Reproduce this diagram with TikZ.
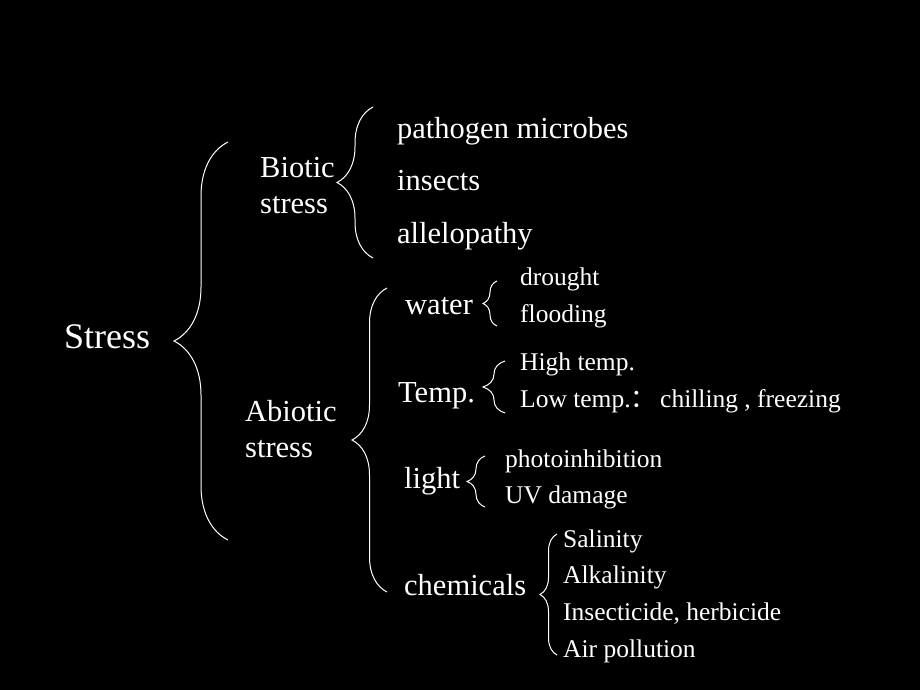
\documentclass[tikz,border=0pt]{standalone}
\usepackage{fontspec}
\setmainfont{Liberation Serif}
\newfontfamily\cjk{Noto Sans CJK SC}
\usetikzlibrary{decorations.pathreplacing}

\tikzset{
  lbl/.style={anchor=base west, inner sep=0pt, text=white},
  big/.style={lbl, font=\fontsize{36}{40}\selectfont},
  mid/.style={lbl, font=\fontsize{30.5}{36}\selectfont},
  small/.style={lbl, font=\fontsize{25.5}{30}\selectfont},
  brc/.style={draw=white, line width=1pt, decorate, decoration={brace, amplitude=#1}},
}

\begin{document}
\begin{tikzpicture}[x=1pt, y=-1pt]
\fill[black] (0,0) rectangle (920,690);

% root
\node[big] (stress) at (64,348) {Stress};

% first level
\node[mid, align=left] (biotic) at (260,213) {Biotic\\stress};
\node[mid, align=left] (abiotic) at (245,457) {Abiotic\\stress};

% biotic
\node[mid] (pathogen) at (397,138) {pathogen microbes};
\node[mid] (insects) at (397,190) {insects};
\node[mid] (allelo) at (397,243) {allelopathy};

% abiotic
\node[mid] (water) at (405,314) {water};
\node[mid] (temp) at (398,402) {Temp.};
\node[mid] (light) at (404,488) {light};
\node[mid] (chem) at (404,595) {chemicals};

\node[small] (drought) at (520,285) {drought};
\node[small] (flooding) at (520,322) {flooding};
\node[small] (hightemp) at (520,370) {High temp.};
\node[small] (lowtemp) at (520,407) {Low temp.{\cjk ：}\hspace{4pt}chilling , freezing};
\node[small] (photo) at (505,467) {photoinhibition};
\node[small] (uv) at (505,503) {UV damage};
\node[small] (salinity) at (563,547) {Salinity};
\node[small] (alkali) at (563,583) {Alkalinity};
\node[small] (insecticide) at (563,620) {Insecticide, herbicide};
\node[small] (airpoll) at (563,657) {Air pollution};

% braces
\coordinate (s0) at (228,540); \coordinate (s1) at (228,142);
\draw[brc=54] (s0) -- (s1);
\coordinate (b0) at (373,258); \coordinate (b1) at (373,107);
\draw[brc=36] (b0) -- (b1);
\coordinate (a0) at (387,592); \coordinate (a1) at (387,288);
\draw[brc=35] (a0) -- (a1);
\coordinate (w0) at (497,326); \coordinate (w1) at (497,281);
\draw[brc=14] (w0) -- (w1);
\coordinate (t0) at (505,413); \coordinate (t1) at (505,361);
\draw[brc=22] (t0) -- (t1);
\coordinate (l0) at (485,507); \coordinate (l1) at (485,456);
\draw[brc=18] (l0) -- (l1);
\coordinate (c0) at (557,655); \coordinate (c1) at (557,534);
\draw[brc=17] (c0) -- (c1);
\end{tikzpicture}
\end{document}
